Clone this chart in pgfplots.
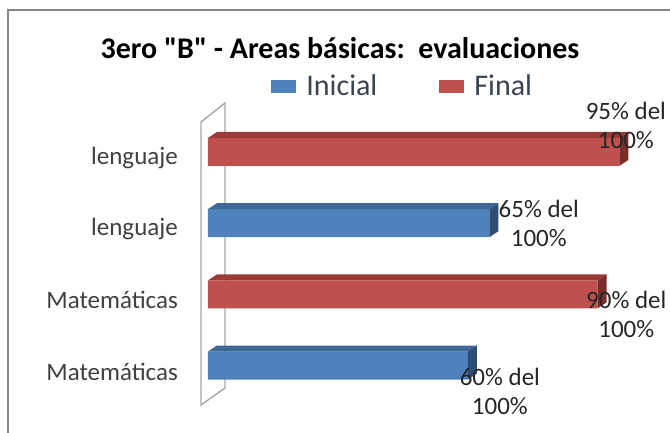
\documentclass[border=0pt]{standalone}
\usepackage{pgfplots}
\pgfplotsset{compat=1.18}
\usepackage{fontspec}
\setmainfont{Carlito}[Ligatures=TeXOff]
\definecolor{bfront}{HTML}{4F81BD}
\definecolor{btop}{HTML}{3F6797}
\definecolor{bside}{HTML}{2E4D75}
\definecolor{rfront}{HTML}{C0504D}
\definecolor{rtop}{HTML}{9B3B39}
\definecolor{rside}{HTML}{7A2D2B}
\definecolor{framegray}{HTML}{868686}
\definecolor{wallgray}{HTML}{A6A6A6}
\definecolor{catgray}{HTML}{404040}
\definecolor{leggray}{HTML}{3A4350}
\begin{document}
\begin{tikzpicture}[x=1pt,y=1pt]
\useasboundingbox (0,0) rectangle (670,432);
\draw[color=framegray, line width=2pt] (7.5,-2) -- (7.5,422) -- (672,422);
\draw[color=wallgray, line width=1.4pt] (201,310) -- (201,27) -- (225,44) -- (225,329) -- cycle;
\node[font=\bfseries\fontsize{30}{36}\selectfont, text=black] at (340,384) {3ero "B" - Areas básicas:\ \ evaluaciones};
\begin{axis}[
  at={(208pt,30.9pt)}, anchor=south west,
  scale only axis, width=433pt, height=284.7pt,
  xmin=0, xmax=100, ymin=-0.5, ymax=3.5,
  clip=false,
  axis line style={draw=none},
  xtick=\empty,
  ytick={0,1,2,3},
  yticklabels={Matemáticas,Matemáticas,lenguaje,lenguaje},
  ytick style={draw=none},
  yticklabel style={font=\fontsize{25}{29}\selectfont, text=catgray, anchor=east, inner sep=0pt, xshift=-30pt, yshift=-6pt},
  legend columns=2,
  legend image code/.code={\fill[#1,draw=none] (0pt,-6.5pt) rectangle (25pt,6.5pt); \path (33pt,0pt);},
  legend style={at={(0.139,1.106)}, anchor=west, draw=none, fill=none,
    font=\fontsize{30}{34}\selectfont, text=leggray,
    /tikz/every even column/.append style={column sep=60pt}},
]
\addplot[xbar, bar width=28pt, bar shift=0pt, fill=bfront, draw=none] coordinates {(60,0) (65,2)};
\addlegendentry{Inicial}
\addplot[xbar, bar width=28pt, bar shift=0pt, fill=rfront, draw=none] coordinates {(90,1) (95,3)};
\addlegendentry{Final}
% 3D top and side faces
\addplot[fill=btop, draw=none, forget plot] coordinates {(0,0.1967) (60,0.1967) (62.08,0.281) (2.08,0.281)} -- cycle;
\addplot[fill=bside, draw=none, forget plot] coordinates {(60,-0.1967) (60,0.1967) (62.08,0.281) (62.08,-0.1124)} -- cycle;
\addplot[fill=rtop, draw=none, forget plot] coordinates {(0,1.1967) (90,1.1967) (92.08,1.281) (2.08,1.281)} -- cycle;
\addplot[fill=rside, draw=none, forget plot] coordinates {(90,0.8033) (90,1.1967) (92.08,1.281) (92.08,0.8876)} -- cycle;
\addplot[fill=btop, draw=none, forget plot] coordinates {(0,2.1967) (65,2.1967) (67.08,2.281) (2.08,2.281)} -- cycle;
\addplot[fill=bside, draw=none, forget plot] coordinates {(65,1.8033) (65,2.1967) (67.08,2.281) (67.08,1.8876)} -- cycle;
\addplot[fill=rtop, draw=none, forget plot] coordinates {(0,3.1967) (95,3.1967) (97.08,3.281) (2.08,3.281)} -- cycle;
\addplot[fill=rside, draw=none, forget plot] coordinates {(95,2.8033) (95,3.1967) (97.08,3.281) (97.08,2.8876)} -- cycle;
% data labels
\node[align=center, font=\fontsize{25}{29}\selectfont, text=black!85] at (axis cs:96.5,3.37) {95\% del\\100\%};
\node[align=center, font=\fontsize{25}{29}\selectfont, text=black!85] at (axis cs:76.4,1.99) {65\% del\\100\%};
\node[align=center, font=\fontsize{25}{29}\selectfont, text=black!85] at (axis cs:96.6,0.72) {90\% del\\100\%};
\node[align=center, font=\fontsize{25}{29}\selectfont, text=black!85] at (axis cs:67.4,-0.37) {60\% del\\100\%};
\end{axis}
\end{tikzpicture}
\end{document}
